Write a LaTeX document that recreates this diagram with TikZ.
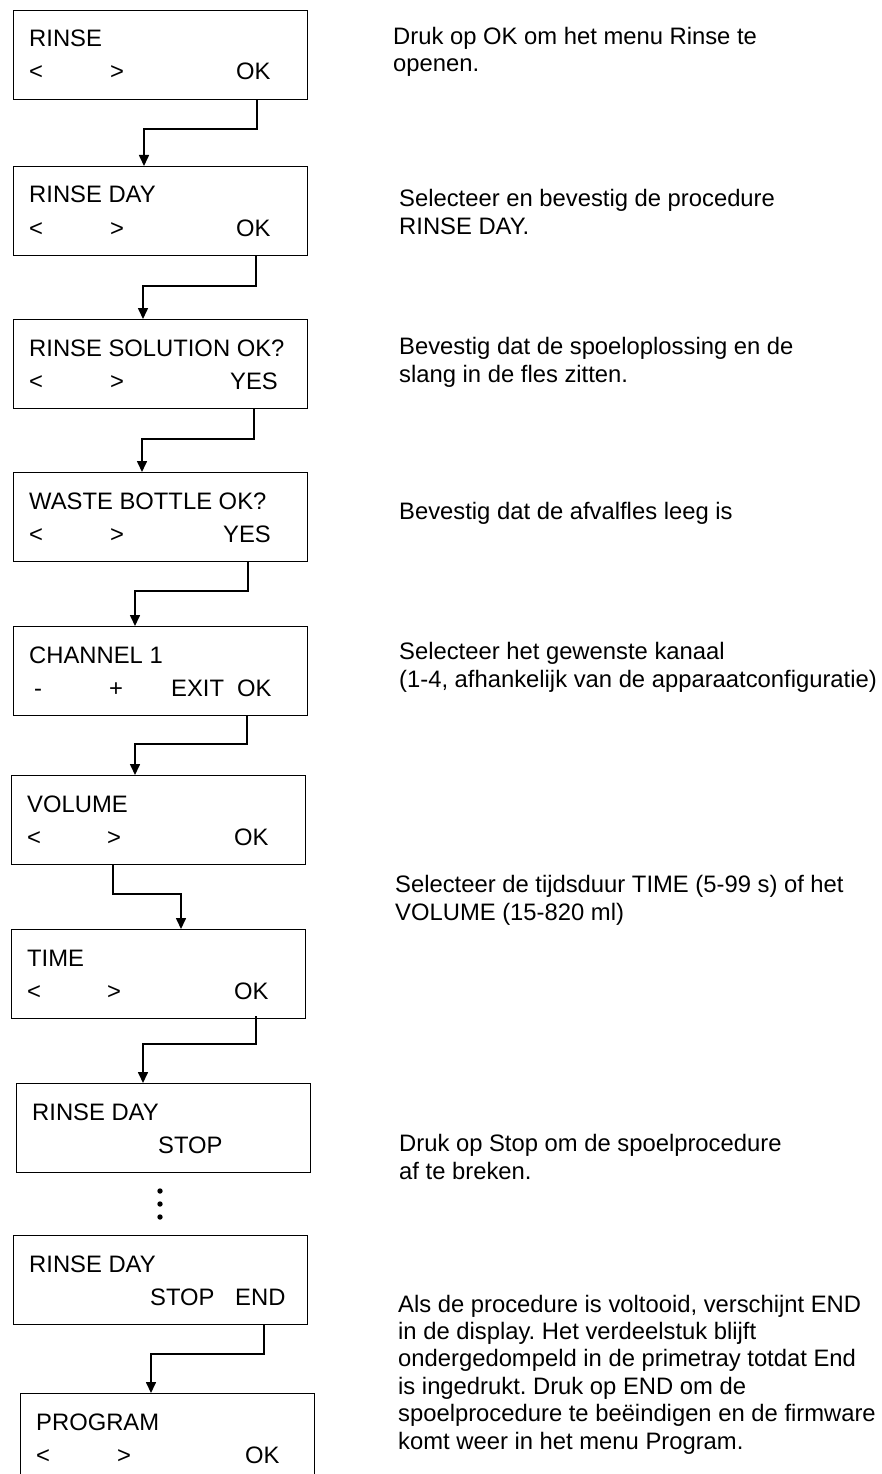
\documentclass[tikz,border=0pt]{standalone}
\usepackage{fontspec}
\setmainfont{Liberation Sans}
\usetikzlibrary{arrows.meta}
\frenchspacing

\begin{document}
\begin{tikzpicture}[x=1pt,y=-1pt,
    screen/.style={draw=black,line width=1.1pt,minimum width=294pt,minimum height=89pt,anchor=north west,inner sep=0pt},
    txt/.style={anchor=base west,inner sep=0pt,font=\fontsize{23.8}{27.4}\selectfont},
    note/.style={txt,align=left},
    flow/.style={draw=black,line width=1.6pt,-{Triangle[length=11pt,width=10pt]}}]
  \useasboundingbox (0,0) rectangle (882,1474);

  \node [screen] (rinse) at (13,10) {};
  \node [txt] (rinse-t) at (29,47) {RINSE};
  \node [txt] (rinse-l) at (29,80) {<};
  \node [txt] (rinse-r) at (110,80) {>};
  \node [txt] (rinse-ok) at (236,80) {OK};

  \node [screen] (rinseday) at (13,166) {};
  \node [txt] (rinseday-t) at (29,203) {RINSE DAY};
  \node [txt] (rinseday-l) at (29,236) {<};
  \node [txt] (rinseday-r) at (110,236) {>};
  \node [txt] (rinseday-ok) at (236,236) {OK};

  \node [screen] (solution) at (13,319) {};
  \node [txt] (solution-t) at (29,356) {RINSE SOLUTION OK?};
  \node [txt] (solution-l) at (29,389) {<};
  \node [txt] (solution-r) at (110,389) {>};
  \node [txt] (solution-yes) at (230,389) {YES};

  \node [screen] (waste) at (13,472) {};
  \node [txt] (waste-t) at (29,509) {WASTE BOTTLE OK?};
  \node [txt] (waste-l) at (29,542) {<};
  \node [txt] (waste-r) at (110,542) {>};
  \node [txt] (waste-yes) at (223,542) {YES};

  \node [screen] (channel) at (13,626) {};
  \node [txt] (channel-t) at (29,663) {CHANNEL 1};
  \node [txt] (channel-m) at (34,696) {-};
  \node [txt] (channel-p) at (109,696) {+};
  \node [txt] (channel-exit) at (171,696) {EXIT};
  \node [txt] (channel-ok) at (237,696) {OK};

  \node [screen] (volume) at (11,775) {};
  \node [txt] (volume-t) at (27,812) {VOLUME};
  \node [txt] (volume-l) at (27,845) {<};
  \node [txt] (volume-r) at (107,845) {>};
  \node [txt] (volume-ok) at (234,845) {OK};

  \node [screen] (time) at (11,929) {};
  \node [txt] (time-t) at (27,966) {TIME};
  \node [txt] (time-l) at (27,999) {<};
  \node [txt] (time-r) at (107,999) {>};
  \node [txt] (time-ok) at (234,999) {OK};

  \node [screen] (stop) at (16,1083) {};
  \node [txt] (stop-t) at (32,1120) {RINSE DAY};
  \node [txt] (stop-s) at (158,1153) {STOP};

  \fill [black] (160,1191) circle (2.7);
  \fill [black] (160,1204) circle (2.7);
  \fill [black] (160,1217) circle (2.7);

  \node [screen] (stopend) at (13,1235) {};
  \node [txt] (stopend-t) at (29,1272) {RINSE DAY};
  \node [txt] (stopend-s) at (150,1305) {STOP};
  \node [txt] (stopend-e) at (235,1305) {END};

  \node [screen] (program) at (20,1393) {};
  \node [txt] (program-t) at (36,1430) {PROGRAM};
  \node [txt] (program-l) at (36,1463) {<};
  \node [txt] (program-r) at (117,1463) {>};
  \node [txt] (program-ok) at (245,1463) {OK};

  \draw [flow] ([xshift=244]rinse.south west) -- ++(0,29) -| ([xshift=131]rinseday.north west);
  \draw [flow] ([xshift=243]rinseday.south west) -- ++(0,30) -| ([xshift=130]solution.north west);
  \draw [flow] ([xshift=241]solution.south west) -- ++(0,30) -| ([xshift=129]waste.north west);
  \draw [flow] ([xshift=235]waste.south west) -- ++(0,29) -| ([xshift=122]channel.north west);
  \draw [flow] ([xshift=234]channel.south west) -- ++(0,28) -| ([xshift=124]volume.north west);
  \draw [flow] ([xshift=102]volume.south west) -- ++(0,29) -| ([xshift=170]time.north west);
  \draw [flow] ([xshift=245,yshift=3]time.south west) -- ++(0,28) -| ([xshift=127]stop.north west);
  \draw [flow] ([xshift=251]stopend.south west) -- ++(0,29) -| ([xshift=131]program.north west);

  % multi-line notes sit on the baseline of their last line
  \node [note] (note-rinse) at (393,72) {Druk op OK om het menu Rinse te\\openen.};
  \node [note] (note-rinseday) at (399,234) {Selecteer en bevestig de procedure\\RINSE DAY.};
  \node [note] (note-solution) at (399,382) {Bevestig dat de spoeloplossing en de\\slang in de fles zitten.};
  \node [note] (note-waste) at (399,519) {Bevestig dat de afvalfles leeg is};
  \node [note] (note-channel) at (399,687) {Selecteer het gewenste kanaal\\(1-4, afhankelijk van de apparaatconfiguratie)};
  \node [note] (note-time) at (395,920) {Selecteer de tijdsduur TIME (5-99 s) of het\\VOLUME (15-820 ml)};
  \node [note] (note-stop) at (399,1179) {Druk op Stop om de spoelprocedure\\af te breken.};
  \node [note] (note-end) at (398,1449) {Als de procedure is voltooid, verschijnt END\\in de display. Het verdeelstuk blijft\\ondergedompeld in de primetray totdat End\\is ingedrukt. Druk op END om de\\spoelprocedure te beëindigen en de firmware\\komt weer in het menu Program.};
\end{tikzpicture}
\end{document}
